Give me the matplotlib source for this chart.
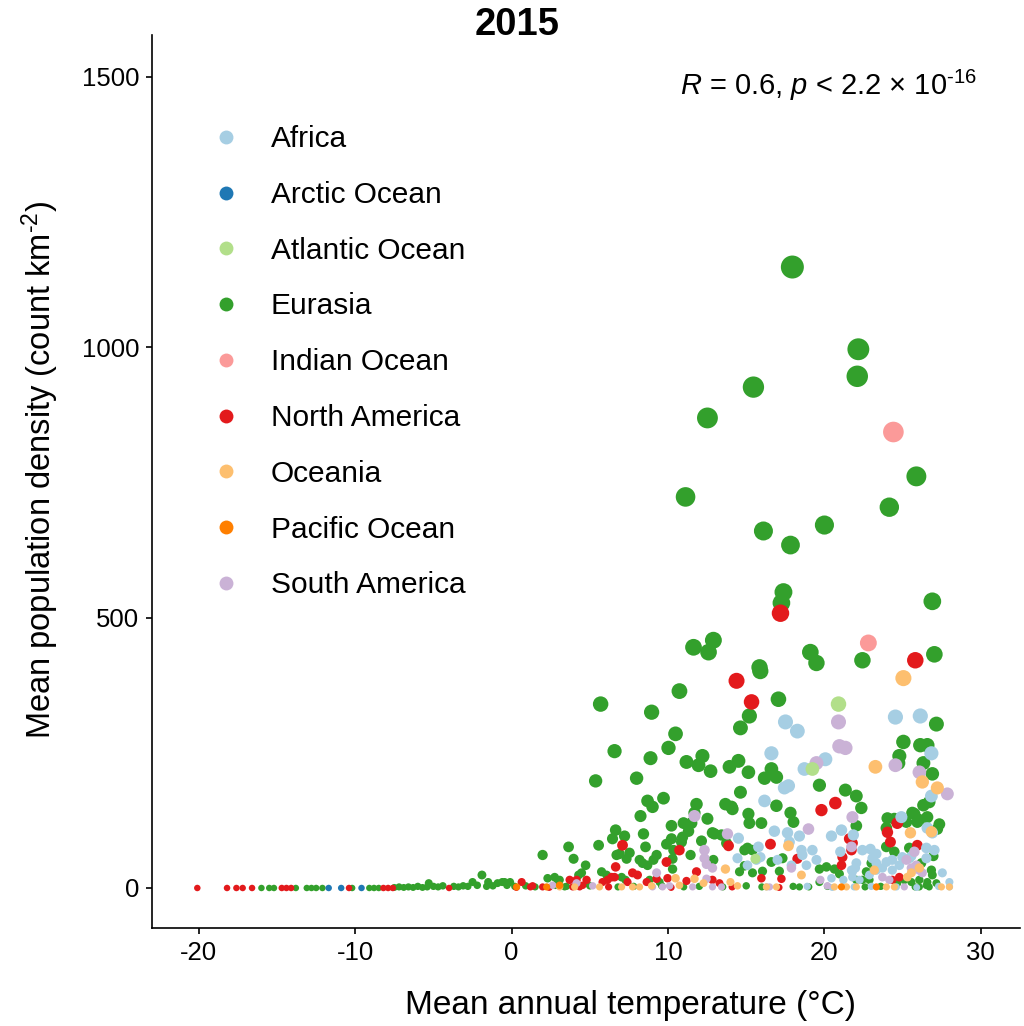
import matplotlib
matplotlib.use("Agg")
import matplotlib.pyplot as plt
from matplotlib.lines import Line2D

plt.rcParams["font.family"] = ["Liberation Sans", "DejaVu Sans"]
plt.rcParams["mathtext.fontset"] = "custom"
plt.rcParams["mathtext.rm"] = "Liberation Sans"
plt.rcParams["mathtext.it"] = "Liberation Sans:italic"
plt.rcParams["axes.unicode_minus"] = False

# mean annual temperature (x) and mean population density (y) per region
eurasia_x = [17.95, 22.17, 22.1, 15.46, 12.52, 11.12, 16.1, 20.0, 24.15, 25.88, 17.83, 17.38, 17.25, 26.9,
             11.63, 12.9, 12.59, 19.1, 19.49, 22.43, 27.03, 15.85, 5.69, 8.95, 10.73, 15.9, 15.2, 14.63,
             17.06, 27.16, 6.58, 8.88, 10.48, 10.03, 5.37, 7.99, 11.18, 12.2, 11.95, 12.72, 13.93, 14.5,
             15.14, 16.17, 16.61, 16.93, 14.63, 16.93, 19.68, 21.34, 22.04, 22.36, 25.05, 24.79, 24.73,
             26.13, 26.58, 26.33, 26.9, 26.33, 26.7, 27.35, 24.03, 23.96, 25.75, 25.94, 22.04, 17.83,
             18.02, 15.14, 15.2, 15.97, 13.67, 14.06, 11.82, 12.52, 10.99, 11.31, 10.93, 12.97, 10.22,
             12.14, 9.71, 8.69, 9.01, 8.24, 8.43, 8.56, 5.56, 6.65, 7.22, 6.45, 3.64, 3.96, 4.73, 5.75,
             6.07, 6.9, 7.54, 7.35, 8.18, 8.37, 8.69, 9.9, 10.22, 10.35, 11.44, 12.9, 12.84, 9.27, 9.07,
             10.29, 10.29, 11.5, 11.69, 10.86, 14.12, 14.89, 15.08, 15.4, 16.61, 17.32, 17.12, 16.04,
             15.4, 14.89, 14.57, 13.42, 13.74, 18.4, 19.68, 19.68, 20.13, 20.64, 20.96, 24.47, 25.24,
             25.62, 26.07, 26.58, 27.22, 23.96, 24.47, 25.43, 26.2, 26.84, 26.9, 26.07, 26.58, 27.16,
             26.7, 26.97, 23.0, 23.19, 22.68, 22.04, 22.43, 22.88, 25.11, 24.66, 25.56, 26.07, 26.52,
             1.98, 4.28, 4.47, 3.07, 2.3, 2.75, 4.79, 6.71, 7.03, 7.28, 8.82, 9.46, 2.9, 3.39, -0.45,
             -0.9, -5.3, -1.9, -2.5, -1.5, -0.6, -0.1,
             -16.0, -15.5, -15.2, -13.8, -13.1, -12.8, -12.5, -12.1, -10.2, -9.1, -8.8, -8.5, -7.5, -7.2,
             -6.9, -6.6, -6.3, -6.0, -5.7, -5.4, -5.0, -4.7, -4.4, -3.7, -3.4, -3.1, -2.8, -2.2, -1.6,
             -1.2, -0.3, 0.2, 0.9, 1.5, 2.8, 3.5, 5.0, 6.8, 7.8, 9.6, 11.0, 12.0, 13.5, 15.0, 16.0, 18.0,
             19.0, 20.2, 22.6, 23.6, 25.8]
eurasia_y = [1148, 996, 946, 926, 869, 723, 660, 671, 704, 761, 634, 547, 527, 530,
             445, 458, 436, 436, 416, 421, 432, 408, 340, 325, 364, 401, 318, 296,
             349, 303, 253, 240, 285, 259, 198, 203, 233, 244, 227, 216, 224, 235,
             214, 203, 220, 205, 177, 152, 190, 181, 170, 148, 270, 244, 231,
             264, 264, 231, 211, 153, 159, 118, 129, 111, 137, 122, 115, 139,
             122, 137, 120, 120, 155, 150, 155, 128, 120, 105, 94, 100, 115,
             87, 166, 161, 150, 133, 100, 76, 79, 107, 96, 91, 76, 54, 42, 30,
             24, 63, 65, 54, 52, 46, 42, 81, 91, 70, 61, 52, 102, 61, 52,
             54, 35, 120, 139, 85, 146, 70, 74, 70, 48, 55, 31, 31,
             28, 41, 30, 98, 83, 2, 11, 35, 39, 35, 26, 128, 122,
             139, 126, 131, 109, 76, 67, 74, 46, 33, 24, 15, 11, 9,
             2, 59, 46, 37, 30, 15, 15, 15, 15, 9, 11, 2, 5,
             61, 24, 28, 15, 18, 20, 9, 61, 20, 15, 15, 11, 8, 2, 11,
             9, 9, 24, 11, 11, 11, 11,
             0, 0, 0, 0, 0, 0, 0, 0, 0, 0, 0, 0, 1, 2,
             1, 2, 1, 3, 1, 2, 3, 2, 4, 3, 2, 4, 3, 5, 3,
             4, 5, 3, 4, 2, 5, 3, 4, 2, 3, 4, 2, 3, 2, 4, 2, 3,
             2, 3, 2, 3, 2]

namerica_x = [17.19, 25.81, 14.38, 15.34, 19.81, 20.7, 24.03, 24.22, 24.66, 25.94, 16.55, 13.87, 7.09,
              6.65, 6.58, 7.73, 8.05, 6.39, 10.73, 9.9, 9.97, 9.27, 11.82, 11.18, 12.84, 13.29, 7.41,
              8.63, 5.81, 6.13, 3.71, 4.15, 4.79, 4.35, 0.64, 1.34, 1.98, 3.9, 4.54, 15.97, 17.25,
              18.27, 21.15, 21.09, 21.73, 21.6, 21.79, 24.34, 24.79,
              -20.1, -18.2, -17.6, -17.2, -16.6, -14.7, -14.4, -14.1, -10.4, -8.2, -7.9, -7.6, -4.0,
              0.3, 1.2, 2.4, 6.2, 10.2, 14.1, 17.1]
namerica_y = [508, 421, 383, 344, 144, 157, 103, 85, 120, 79, 81, 78, 79,
              39, 20, 28, 24, 20, 70, 48, 18, 17, 30, 13, 15, 9, 11,
              11, 11, 15, 15, 15, 15, 2, 11, 4, 2, 2, 5, 18, 17,
              54, 57, 42, 70, 91, 83, 15, 20,
              0, 0, 0, 0, 0, 0, 0, 0, 0, 0, 0, 0, 0,
              1, 2, 1, 2, 1, 2, 1]

africa_x = [24.54, 26.13, 17.51, 18.27, 16.61, 20.06, 18.72, 17.44, 17.7, 16.17, 26.84, 26.84, 24.92,
            26.58, 21.85, 21.09, 20.45, 16.8, 17.64, 18.4, 17.76, 14.5, 14.44, 15.08, 15.78, 15.91,
            15.65, 18.53, 19.23, 18.59, 19.49, 18.85, 17.0, 17.89, 21.02, 22.43, 22.94, 23.32, 23.96,
            24.34, 24.98, 25.43, 23.07, 23.32, 23.71, 23.32, 24.34, 24.79, 25.56, 26.52, 27.03, 26.9,
            26.52, 27.54, 27.99, 22.04, 21.73, 21.79, 22.24, 22.88, 20.45, 21.21, 21.79, 21.98,
            16.3, 18.9, 20.5, 21.9, 23.0, 24.6, 25.9, 27.3, 28.0]
africa_y = [316, 318, 307, 290, 249, 238, 220, 185, 189, 161, 249, 170, 131,
            111, 98, 107, 96, 105, 102, 96, 85, 92, 55, 42, 76, 57,
            52, 70, 70, 61, 52, 42, 52, 42, 67, 70, 72, 63, 48,
            52, 57, 55, 55, 46, 37, 33, 33, 42, 59, 74, 70, 102,
            55, 28, 11, 46, 33, 20, 15, 24, 18, 15, 30, 37,
            2, 3, 1, 2, 3, 2, 1, 3, 2]

samerica_x = [20.9, 20.96, 21.34, 19.49, 24.54, 26.07, 27.86, 21.79, 18.98, 13.8, 11.69, 12.33, 12.33,
              12.46, 9.27, 12.84, 12.46, 11.57, 12.84, 13.42, 9.01, 9.65, 10.1, 2.62, 5.18, 4.15,
              21.73, 17.89, 19.74, 20.19, 16.49, 25.75, 25.24, 25.88, 25.56, 26.07, 26.26, 23.71,
              24.15, 25.11]
samerica_y = [307, 262, 259, 231, 227, 214, 174, 131, 109, 100, 133, 70, 55,
              44, 28, 37, 17, 2, 2, 2, 2, 2, 4, 5, 4, 9,
              76, 37, 15, 4, 2, 67, 52, 42, 37, 33, 28, 20,
              15, 2]

oceania_x = [25.05, 23.26, 26.26, 27.22, 25.5, 26.84, 17.7, 13.67, 18.53, 23.19, 25.56, 26.07, 25.3,
             11.69, 12.27, 10.48, 10.73, 8.95, 8.18, 7.73, 13.99, 14.44, 7.03, 5.62, 4.03, 3.07,
             20.64, 21.41, 22.04, 16.29, 16.93, 23.96, 24.47, 27.48, 27.99]
oceania_y = [388, 224, 196, 185, 102, 104, 78, 35, 24, 33, 28, 37, 20,
             17, 9, 18, 5, 4, 2, 2, 11, 4, 2, 2, 2, 2,
             2, 2, 2, 2, 2, 2, 2, 2, 2]

atlantic_x = [20.9, 19.23, 15.59]
atlantic_y = [340, 220, 54]

indian_x = [24.41, 22.81]
indian_y = [843, 453]

arctic_x = [-11.7, -10.9, -9.6]
arctic_y = [0, 0, 0]

pacific_x = [0.32, 2.24, 3.07, 21.09, 23.32]
pacific_y = [2, 2, 5, 2, 2]

regions = ["Africa", "Arctic Ocean", "Atlantic Ocean", "Eurasia", "Indian Ocean",
           "North America", "Oceania", "Pacific Ocean", "South America"]
colors = {"Africa": "#A6CEE3", "Arctic Ocean": "#1F78B4", "Atlantic Ocean": "#B2DF8A",
          "Eurasia": "#33A02C", "Indian Ocean": "#FB9A99", "North America": "#E31A1C",
          "Oceania": "#FDBF6F", "Pacific Ocean": "#FF7F00", "South America": "#CAB2D6"}
data = {"Africa": (africa_x, africa_y), "Arctic Ocean": (arctic_x, arctic_y),
        "Atlantic Ocean": (atlantic_x, atlantic_y), "Eurasia": (eurasia_x, eurasia_y),
        "Indian Ocean": (indian_x, indian_y), "North America": (namerica_x, namerica_y),
        "Oceania": (oceania_x, oceania_y), "Pacific Ocean": (pacific_x, pacific_y),
        "South America": (samerica_x, samerica_y)}
draw_order = ["Eurasia", "North America", "Africa", "South America", "Oceania",
              "Atlantic Ocean", "Indian Ocean", "Arctic Ocean", "Pacific Ocean"]


def marker_area(v):
    # point diameter grows with sqrt(density), like ggplot's area scale
    d_px = 6.5 + 0.487 * max(v, 0) ** 0.5
    return (d_px * 0.72) ** 2


fig = plt.figure(figsize=(10.24, 10.26), dpi=100)
ax = fig.add_axes([0.1484, 0.0955, 0.8476, 0.8704])

for name in draw_order:
    xs, ys = data[name]
    ax.scatter(xs, ys, s=[marker_area(v) for v in ys], c=colors[name], linewidths=0)

ax.set_xlim(-23, 32.5)
ax.set_ylim(-74, 1577)
ax.set_xticks([-20, -10, 0, 10, 20, 30])
ax.set_yticks([0, 500, 1000, 1500])
ax.spines["top"].set_visible(False)
ax.spines["right"].set_visible(False)
for sp in ["left", "bottom"]:
    ax.spines[sp].set_linewidth(1.2)
ax.tick_params(labelsize=18.5, length=4.3, width=1.2, pad=5)

fig.text(0.616, 0.020, "Mean annual temperature (°C)", fontsize=24, ha="center", va="center")
fig.text(0.039, 0.542, r"Mean population density (count km$^{\text{-2}}$)", fontsize=23.5,
         rotation=90, ha="center", va="center")
fig.text(0.505, 0.976, "2015", fontsize=27.5, fontweight="bold", ha="center", va="center")
ax.text(0.608, 0.943, r"$\it{R}$ = 0.6, $\it{p}$ < 2.2 × 10$^{\text{-16}}$", fontsize=21,
        transform=ax.transAxes, ha="left", va="center")

handles = [Line2D([], [], marker="o", linestyle="none", markersize=10,
                  markerfacecolor=colors[r], markeredgewidth=0) for r in regions]
ax.legend(handles, regions, loc="upper left", bbox_to_anchor=(0.068, 0.899), frameon=False,
          fontsize=21.5, handlelength=1.0, handletextpad=1.0, labelspacing=0.93,
          borderpad=0, borderaxespad=0)

fig.savefig("out.png", dpi=100)
